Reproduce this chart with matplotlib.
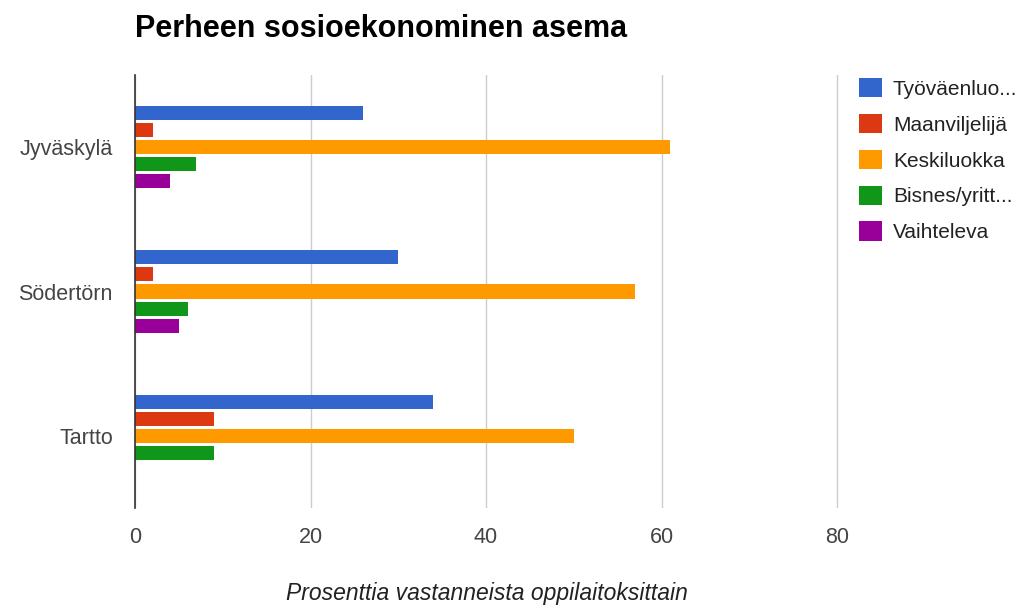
#!/usr/bin/env python3
import numpy as np
import matplotlib
matplotlib.use('Agg')
import matplotlib.pyplot as plt

plt.rcParams['font.family'] = ['Liberation Sans', 'DejaVu Sans']

## The data (percent of respondents per institution)
places = ['Jyväskylä', 'Södertörn', 'Tartto']
series = ['Työväenluo...', 'Maanviljelijä', 'Keskiluokka', 'Bisnes/yritt...', 'Vaihteleva']
tyovaenluokka = [26, 30, 34]
maanviljelija = [2, 2, 9]
keskiluokka = [61, 57, 50]
bisnes = [7, 6, 9]
vaihteleva = [4, 5, 0]
colors = ['#3366CC', '#DC3912', '#FF9900', '#109618', '#990099']
xticks = [0, 20, 40, 60, 80]

values = [tyovaenluokka, maanviljelija, keskiluokka, bisnes, vaihteleva]

fig = plt.figure(figsize=(10.29, 6.08), dpi=100)
# extend right edge a little so the 80 gridline is not clipped
ax = fig.add_axes([0.1312, 0.1645, 0.6842, 0.7121])

y = np.arange(len(places))
step = 17 / 144
h = 14 / 144
for i, (name, vals) in enumerate(zip(series, values)):
    ax.barh(y + (i - 2) * step, vals, height=h, color=colors[i],
            label=name, linewidth=0, zorder=3)

ax.set_xlim(0, 80.23)
ax.set_ylim(2.5, -0.5)
ax.set_xticks(xticks)
ax.set_yticks(y)
ax.set_yticklabels(places)
ax.tick_params(axis='both', length=0, labelsize=15.5, colors='#444444')
ax.tick_params(axis='x', pad=14)
ax.tick_params(axis='y', pad=16)
ax.grid(axis='x', color='#cccccc', linewidth=1, zorder=0)
for s in ['top', 'right', 'bottom']:
    ax.spines[s].set_visible(False)
ax.spines['left'].set_color('#333333')
ax.spines['left'].set_linewidth(1.2)
ax.spines['left'].set_zorder(4)

ax.set_xlabel('Prosenttia vastanneista oppilaitoksittain', style='italic',
              fontsize=16.5, color='#222222', labelpad=24)

fig.text(0.1312, 0.953, 'Perheen sosioekonominen asema', fontsize=22,
         fontweight='bold', ha='left', va='center')

fig.legend(loc='upper left', bbox_to_anchor=(0.835, 0.872), frameon=False,
           fontsize=15, handlelength=1.07, handleheight=1.07, borderaxespad=0,
           borderpad=0, labelspacing=0.72, handletextpad=0.55,
           labelcolor='#222222')

plt.savefig('out.png', dpi=100)
